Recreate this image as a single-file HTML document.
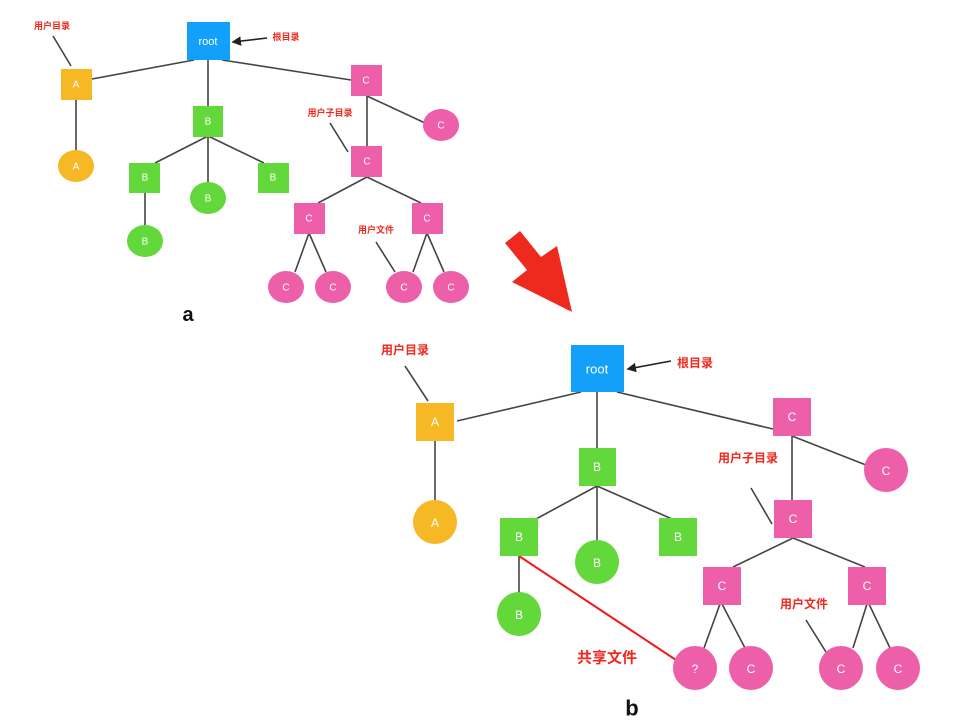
<!DOCTYPE html>
<html><head><meta charset="utf-8"><style>
html,body{margin:0;padding:0;background:#fff;}
svg{display:block;}
text{font-family:"Liberation Sans","Noto Sans CJK SC",sans-serif;}
.w{fill:#fff;text-anchor:middle;dominant-baseline:central;}
.r{fill:#f0281e;font-weight:bold;text-anchor:middle;dominant-baseline:central;}
line{stroke:#444;stroke-width:1.6;}
</style></head><body>
<svg width="972" height="720" viewBox="0 0 972 720" xmlns="http://www.w3.org/2000/svg">
<defs><marker id="ah" markerWidth="6" markerHeight="6" refX="5" refY="3" orient="auto"><path d="M0,0L6,3L0,6z" fill="#222"/></marker></defs>
<!-- Part a -->
<g>
<line x1="194" y1="60" x2="92" y2="79"/>
<line x1="208" y1="60" x2="208" y2="106"/>
<line x1="222" y1="60" x2="351" y2="80"/>
<line x1="76" y1="100" x2="76" y2="150"/>
<line x1="208" y1="136" x2="155" y2="163"/>
<line x1="208" y1="136" x2="208" y2="184"/>
<line x1="208" y1="136" x2="264" y2="163"/>
<line x1="145" y1="193" x2="145" y2="226"/>
<line x1="367" y1="96" x2="367" y2="146"/>
<line x1="367" y1="96" x2="425" y2="123"/>
<line x1="367" y1="177" x2="318" y2="203"/>
<line x1="367" y1="177" x2="421" y2="203"/>
<line x1="309" y1="233" x2="295" y2="272"/>
<line x1="309" y1="233" x2="326" y2="272"/>
<line x1="427" y1="233" x2="413" y2="272"/>
<line x1="427" y1="233" x2="444" y2="272"/>
<line x1="53" y1="36" x2="71" y2="66"/>
<line x1="330" y1="123" x2="348" y2="152"/>
<line x1="376" y1="242" x2="395" y2="272"/>
<line x1="267" y1="38" x2="233" y2="42" marker-end="url(#ah)" style="stroke:#222"/>
<rect x="187" y="22" width="43" height="38" fill="#12a0fa"/><text x="208" y="42" class="w" font-size="11">root</text>
<rect x="61" y="69" width="31" height="31" fill="#f7b825"/><text x="76" y="85" class="w" font-size="10">A</text>
<ellipse cx="76" cy="166" rx="18" ry="16" fill="#f7b825"/><text x="76" y="167" class="w" font-size="10">A</text>
<rect x="193" y="106" width="30" height="31" fill="#62d83a"/><text x="208" y="122" class="w" font-size="10">B</text>
<rect x="129" y="163" width="31" height="30" fill="#62d83a"/><text x="145" y="178" class="w" font-size="10">B</text>
<ellipse cx="208" cy="198" rx="18" ry="16" fill="#62d83a"/><text x="208" y="199" class="w" font-size="10">B</text>
<rect x="258" y="163" width="31" height="30" fill="#62d83a"/><text x="273" y="178" class="w" font-size="10">B</text>
<ellipse cx="145" cy="241" rx="18" ry="16" fill="#62d83a"/><text x="145" y="242" class="w" font-size="10">B</text>
<rect x="351" y="65" width="31" height="31" fill="#ee5fa9"/><text x="366" y="81" class="w" font-size="10">C</text>
<ellipse cx="441" cy="125" rx="18" ry="16" fill="#ee5fa9"/><text x="441" y="126" class="w" font-size="10">C</text>
<rect x="351" y="146" width="31" height="31" fill="#ee5fa9"/><text x="367" y="162" class="w" font-size="10">C</text>
<rect x="294" y="203" width="31" height="31" fill="#ee5fa9"/><text x="309" y="219" class="w" font-size="10">C</text>
<rect x="412" y="203" width="31" height="31" fill="#ee5fa9"/><text x="427" y="219" class="w" font-size="10">C</text>
<ellipse cx="286" cy="287" rx="18" ry="16" fill="#ee5fa9"/><text x="286" y="288" class="w" font-size="10">C</text>
<ellipse cx="333" cy="287" rx="18" ry="16" fill="#ee5fa9"/><text x="333" y="288" class="w" font-size="10">C</text>
<ellipse cx="404" cy="287" rx="18" ry="16" fill="#ee5fa9"/><text x="404" y="288" class="w" font-size="10">C</text>
<ellipse cx="451" cy="287" rx="18" ry="16" fill="#ee5fa9"/><text x="451" y="288" class="w" font-size="10">C</text>
<text x="52" y="26" class="r" font-size="9">用户目录</text>
<text x="286" y="37" class="r" font-size="9">根目录</text>
<text x="330" y="113" class="r" font-size="9">用户子目录</text>
<text x="376" y="230" class="r" font-size="9">用户文件</text>
<text x="188" y="315" font-size="20" font-weight="bold" text-anchor="middle" dominant-baseline="central" fill="#111">a</text>
</g>
<!-- arrow -->
<polygon points="505,243 520,231 541,257 557,246 572,312 512,282 527,270" fill="#ee2a1e"/>
<!-- Part b -->
<g>
<line x1="581" y1="392" x2="457" y2="421"/>
<line x1="597" y1="392" x2="597" y2="448"/>
<line x1="617" y1="392" x2="773" y2="429"/>
<line x1="435" y1="441" x2="435" y2="500"/>
<line x1="597" y1="486" x2="536" y2="519"/>
<line x1="597" y1="486" x2="597" y2="541"/>
<line x1="597" y1="486" x2="672" y2="519"/>
<line x1="519" y1="556" x2="519" y2="593"/>
<line x1="792" y1="436" x2="792" y2="500"/>
<line x1="792" y1="436" x2="866" y2="465"/>
<line x1="793" y1="538" x2="733" y2="567"/>
<line x1="793" y1="538" x2="865" y2="567"/>
<line x1="720" y1="604" x2="704" y2="648"/>
<line x1="722" y1="604" x2="745" y2="648"/>
<line x1="867" y1="604" x2="853" y2="648"/>
<line x1="869" y1="604" x2="890" y2="648"/>
<line x1="405" y1="366" x2="428" y2="401"/>
<line x1="751" y1="488" x2="772" y2="524"/>
<line x1="806" y1="620" x2="826" y2="652"/>
<line x1="519" y1="556" x2="676" y2="660" style="stroke:#ee1c1c;stroke-width:2"/>
<line x1="671" y1="361" x2="628" y2="369" marker-end="url(#ah)" style="stroke:#222"/>
<rect x="571" y="345" width="53" height="47" fill="#12a0fa"/><text x="597" y="369" class="w" font-size="13">root</text>
<rect x="416" y="403" width="38" height="38" fill="#f7b825"/><text x="435" y="422" class="w" font-size="12">A</text>
<circle cx="435" cy="522" r="22" fill="#f7b825"/><text x="435" y="523" class="w" font-size="12">A</text>
<rect x="579" y="448" width="37" height="38" fill="#62d83a"/><text x="597" y="467" class="w" font-size="12">B</text>
<rect x="500" y="518" width="38" height="38" fill="#62d83a"/><text x="519" y="537" class="w" font-size="12">B</text>
<circle cx="597" cy="562" r="22" fill="#62d83a"/><text x="597" y="563" class="w" font-size="12">B</text>
<rect x="659" y="518" width="38" height="38" fill="#62d83a"/><text x="678" y="537" class="w" font-size="12">B</text>
<circle cx="519" cy="614" r="22" fill="#62d83a"/><text x="519" y="615" class="w" font-size="12">B</text>
<rect x="773" y="398" width="38" height="38" fill="#ee5fa9"/><text x="792" y="417" class="w" font-size="12">C</text>
<circle cx="886" cy="470" r="22" fill="#ee5fa9"/><text x="886" y="471" class="w" font-size="12">C</text>
<rect x="774" y="500" width="38" height="38" fill="#ee5fa9"/><text x="793" y="519" class="w" font-size="12">C</text>
<rect x="703" y="567" width="38" height="38" fill="#ee5fa9"/><text x="722" y="586" class="w" font-size="12">C</text>
<rect x="848" y="567" width="38" height="38" fill="#ee5fa9"/><text x="867" y="586" class="w" font-size="12">C</text>
<circle cx="695" cy="668" r="22" fill="#ee5fa9"/><text x="695" y="669" class="w" font-size="12">?</text>
<circle cx="751" cy="668" r="22" fill="#ee5fa9"/><text x="751" y="669" class="w" font-size="12">C</text>
<circle cx="841" cy="668" r="22" fill="#ee5fa9"/><text x="841" y="669" class="w" font-size="12">C</text>
<circle cx="898" cy="668" r="22" fill="#ee5fa9"/><text x="898" y="669" class="w" font-size="12">C</text>
<text x="405" y="350" class="r" font-size="12">用户目录</text>
<text x="695" y="363" class="r" font-size="12">根目录</text>
<text x="748" y="458" class="r" font-size="12">用户子目录</text>
<text x="804" y="604" class="r" font-size="12">用户文件</text>
<text x="607" y="658" class="r" font-size="15">共享文件</text>
<text x="632" y="708" font-size="22" font-weight="bold" text-anchor="middle" dominant-baseline="central" fill="#111">b</text>
</g>
</svg>
</body></html>
